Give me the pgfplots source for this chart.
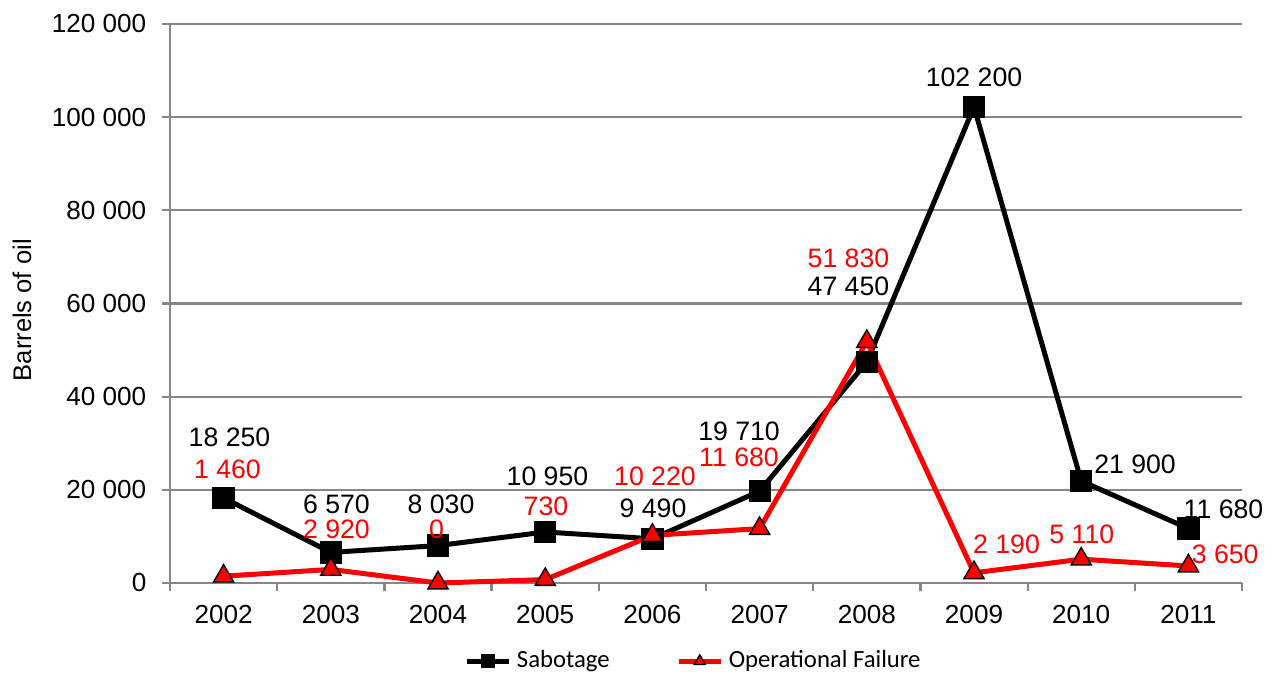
\documentclass[border=0pt]{standalone}
\usepackage{pgfplots}
\pgfplotsset{compat=1.18}
\usepackage{fontspec}
\setmainfont{Liberation Sans}
\newfontfamily\carlito{Carlito}
\definecolor{gridgray}{RGB}{134,134,134}
\definecolor{oilred}{RGB}{255,0,0}

\begin{document}
\begin{tikzpicture}[x=1pt,y=1pt]
\useasboundingbox (0,0) rectangle (460.08,243.72);
\begin{axis}[
    at={(61.2pt,33.84pt)}, anchor=south west,
    scale only axis,
    width=385.92pt, height=201.24pt,
    xmin=-0.5, xmax=9.5,
    ymin=0, ymax=120000,
    scaled y ticks=false,
    clip=false,
    axis x line*=bottom, axis y line*=left,
    axis line style={gridgray, line width=0.8pt},
    xtick={0,...,9},
    xticklabels={2002,2003,2004,2005,2006,2007,2008,2009,2010,2011},
    major x tick style={draw=none},
    minor xtick={-0.5,0.5,...,9.5},
    minor x tick style={gridgray, line width=0.8pt},
    tick align=outside,
    minor tick length=3pt,
    major tick length=3pt,
    ytick={0,20000,...,120000},
    yticklabels={0,20 000,40 000,60 000,80 000,100 000,120 000},
    y tick style={gridgray, line width=0.8pt},
    ymajorgrids,
    grid style={gridgray, line width=0.8pt},
    tick label style={font=\fontsize{9.4}{10}\selectfont},
    yticklabel style={xshift=-2pt},
    xticklabel style={yshift=-1.5pt},
    ylabel={Barrels of oil},
    ylabel style={at={(axis description cs:-0.138,0.488)}, anchor=center, font=\fontsize{9.2}{10}\selectfont},
    legend columns=2,
    legend style={at={(0.49,-0.14)}, anchor=center, draw=none, fill=none,
        font=\carlito\fontsize{8.9}{10}\selectfont,
        /tikz/every even column/.append style={column sep=22pt}},
    legend cell align=left,
    legend image code/.code={
        \draw[mark repeat=2, mark phase=2, mark size=2.3pt]
            plot coordinates {(0cm,0cm) (0.265cm,0cm) (0.53cm,0cm)};},
]
\addplot[black, line width=1.8pt, mark=square*, mark size=3.8pt,
    mark options={fill=black, line width=0.4pt}] coordinates {
    (0,18250) (1,6570) (2,8030) (3,10950) (4,9490)
    (5,19710) (6,47450) (7,102200) (8,21900) (9,11680)
};
\addlegendentry{Sabotage}
\addplot[oilred, line width=1.8pt, mark=triangle*, mark size=4.2pt,
    mark options={fill=oilred, draw=black, line width=0.5pt}] coordinates {
    (0,1460) (1,2920) (2,0) (3,730) (4,10220)
    (5,11680) (6,51830) (7,2190) (8,5110) (9,3650)
};
\addlegendentry{Operational Failure}

% value labels (positions)
\addplot[draw=none, mark=none, forget plot, nodes near coords,
    point meta=explicit symbolic,
    nodes near coords style={anchor=center, inner sep=0pt, black, font=\fontsize{9.6}{10}\selectfont}]
    coordinates {
    (0.055,31234) [18 250]
    (1.053,16850) [6 570]
    (2.028,16850) [8 030]
    (3.021,22970) [10 950]
    (4.006,16100) [9 490]
    (4.808,32630) [19 710]
    (5.829,63757) [47 450]
    (7.0,108516) [102 200]
    (8.502,25546) [21 900]
    (9.327,15886) [11 680]
};
\addplot[draw=none, mark=none, forget plot, nodes near coords,
    point meta=explicit symbolic,
    nodes near coords style={anchor=center, inner sep=0pt, oilred, font=\fontsize{9.6}{10}\selectfont}]
    coordinates {
    (0.036,24472) [1 460]
    (1.053,11500) [2 920]
    (1.986,11500) [0]
    (3.007,16530) [730]
    (4.024,22970) [10 220]
    (4.808,27048) [11 680]
    (5.829,69768) [51 830]
    (7.303,8372) [2 190]
    (8.006,10519) [5 110]
    (9.343,6225) [3 650]
};
\end{axis}
\end{tikzpicture}
\end{document}
